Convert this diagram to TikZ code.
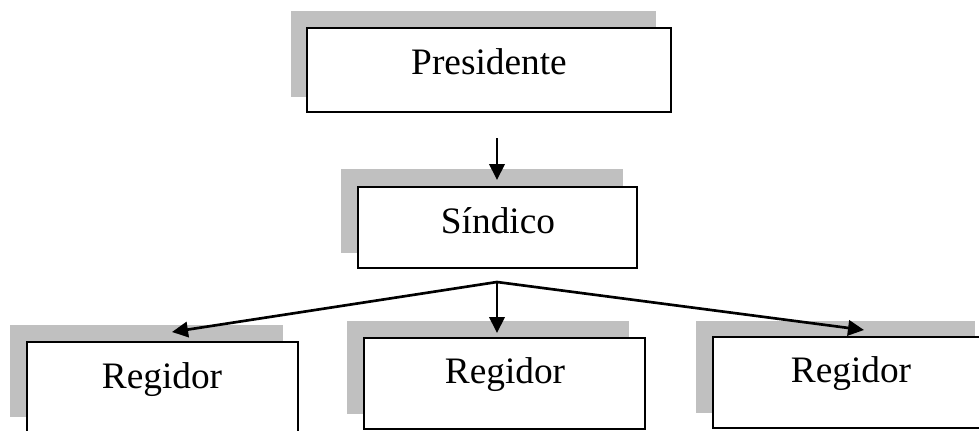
\documentclass[tikz,border=0pt]{standalone}
\usepackage{fontspec}
\setmainfont{Liberation Serif}
\usetikzlibrary{arrows.meta}
\definecolor{shadowgray}{HTML}{C0C0C0}
\begin{document}
\begin{tikzpicture}[x=0.75pt,y=-0.75pt,
  shadowbox/.style={rectangle,fill=shadowgray,draw=none,inner sep=0pt},
  mainbox/.style={rectangle,fill=white,draw=black,line width=1.4pt,inner sep=0pt},
  boxtext/.style={anchor=base,inner sep=0pt,font=\fontsize{28}{32}\selectfont},
  conn/.style={line width=2pt,-{Triangle[length=12pt,width=11.5pt]}}]
\useasboundingbox (0,0) rectangle (979,430);
% Presidente
\node[shadowbox,minimum width=273.75pt,minimum height=64.5pt] (pshadow) at (473.5,54) {};
\node[mainbox,minimum width=273pt,minimum height=63pt] (pbox) at (489,70) {};
\node[boxtext] (ptext) at (489,74) {Presidente};
% Sindico
\node[shadowbox,minimum width=211.5pt,minimum height=63pt] (sshadow) at (482,211) {};
\node[mainbox,minimum width=209.25pt,minimum height=60.75pt] (sbox) at (497.5,227.5) {};
\node[boxtext] (stext) at (498,233) {Síndico};
% Regidor left
\node[shadowbox,minimum width=204.75pt,minimum height=69pt] (lshadow) at (146.5,371) {};
\node[mainbox,minimum width=203.25pt,minimum height=68.25pt] (lbox) at (162.5,387.5) {};
\node[boxtext] (ltext) at (162,388) {Regidor};
% Regidor middle
\node[shadowbox,minimum width=211.5pt,minimum height=69.75pt] (mshadow) at (488,367.5) {};
\node[mainbox,minimum width=210.75pt,minimum height=68.25pt] (mbox) at (504.5,383.5) {};
\node[boxtext] (mtext) at (505,383) {Regidor};
% Regidor right
\node[shadowbox,minimum width=209.25pt,minimum height=69pt] (rshadow) at (835.5,367) {};
\node[mainbox,minimum width=207pt,minimum height=68.25pt] (rbox) at (851,382.5) {};
\node[boxtext] (rtext) at (851,382) {Regidor};
% connectors
\coordinate (pout) at (497,138);
\coordinate (sin) at (497,180);
\coordinate (apex) at (497,282);
\coordinate (lin) at (172,332);
\coordinate (min) at (497,333);
\coordinate (rin) at (864,330);
\draw[conn] (pout) -- (sin);
\draw[conn] (apex) -- (lin);
\draw[conn] (apex) -- (min);
\draw[conn] (apex) -- (rin);
\end{tikzpicture}
\end{document}
